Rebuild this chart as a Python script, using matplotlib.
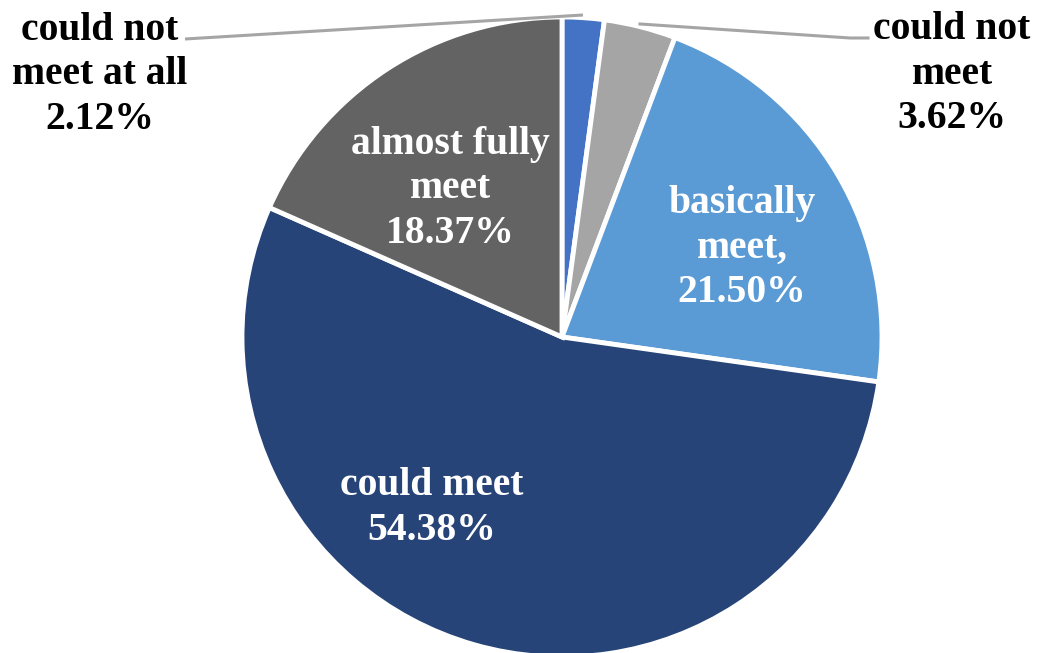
import matplotlib.pyplot as plt

# data
categories = ["could not\nmeet at all", "could not\nmeet", "basically\nmeet,", "could meet", "almost fully\nmeet"]
values = [2.12, 3.62, 21.50, 54.38, 18.37]
colors = ["#4472C4", "#A5A5A5", "#5B9BD5", "#264478", "#636363"]
text_colors = ["black", "black", "white", "white", "white"]

# label positions in pixels (x, y from top)
label_pos = [(100, 75), (952, 74), (742, 248), (432, 508), (450, 189)]

W, H = 1038, 653
fig = plt.figure(figsize=(W / 100, H / 100), dpi=100)
ax = fig.add_axes([0, 0, 1, 1])

cx, cy, r = 562, H - 337, 320
ax.pie(values, colors=colors, startangle=90, counterclock=False,
       center=(cx, cy), radius=r, frame=True,
       wedgeprops=dict(edgecolor="white", linewidth=3.5))
ax.set_xlim(0, W)
ax.set_ylim(0, H)
ax.set_aspect("equal")
ax.axis("off")

for lab, v, (px, py), tc in zip(categories, values, label_pos, text_colors):
    ax.text(px, H - py, f"{lab}\n{v:.2f}%", ha="center", va="center",
            fontsize=28.5, fontweight="bold", family="Liberation Serif",
            color=tc, linespacing=1.27)

# leader lines
ax.plot([185, 583], [H - 39, H - 15], color="#A5A5A5", lw=2.2, solid_capstyle="butt")
ax.plot([640, 850, 868], [H - 24, H - 38, H - 38], color="#A5A5A5", lw=2.2)

fig.savefig("out.png", dpi=100)
